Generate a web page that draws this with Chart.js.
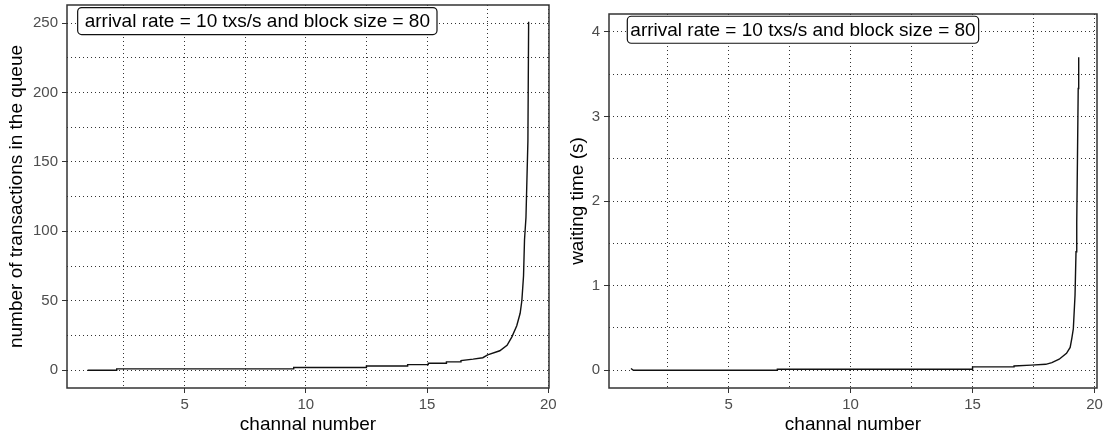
<!DOCTYPE html>
<html>
<head>
<meta charset="utf-8">
<script src="https://cdn.jsdelivr.net/npm/chart.js@4.4.1/dist/chart.umd.min.js"></script>
<style>
    html, body { margin: 0; padding: 0; background: #fff; }
    #wrap { position: relative; width: 1108px; height: 440px; overflow: hidden; }
    .panel { position: absolute; top: 0; height: 440px; }
</style>
</head>
<body>
<div id="wrap">
    <div class="panel" style="left:0;width:575px"><canvas id="queueChart" width="575" height="440"></canvas></div>
    <div class="panel" style="left:555px;width:553px"><canvas id="waitChart" width="553" height="440"></canvas></div>
</div>
<script>
// ---- data ----
const queueX = [1.0, 2.2, 2.2, 9.5, 9.5, 12.5, 12.5, 14.2, 14.2, 15.05, 15.05, 15.8, 15.8, 16.4, 16.4, 16.9, 17.3, 17.5, 18.0, 18.3, 18.5, 18.7, 18.84, 18.91, 18.98, 19.02, 19.08, 19.16, 19.19];
const queueY = [0, 0, 1, 1, 2, 2, 3, 3, 4, 4, 5, 5, 6, 6, 7, 8, 9, 11, 14, 18, 24, 32, 41, 50, 68, 94, 110, 165, 251];

const waitX = [1.0, 1.1, 7.0, 7.0, 15.0, 15.0, 16.7, 16.7, 17.4, 18.0, 18.25, 18.55, 18.85, 19.0, 19.07, 19.13, 19.2, 19.24, 19.27, 19.3, 19.33, 19.35];
const waitY = [0.02, 0, 0, 0.012, 0.012, 0.04, 0.04, 0.05, 0.06, 0.07, 0.09, 0.13, 0.2, 0.27, 0.38, 0.49, 0.89, 1.4, 1.75, 2.52, 3.33, 3.7];

const xTicks = [2.5, 5, 7.5, 10, 12.5, 15, 17.5, 20];
const queueTicks = [0, 25, 50, 75, 100, 125, 150, 175, 200, 225, 250];
const waitTicks = [0, 0.5, 1, 1.5, 2, 2.5, 3, 3.5, 4];

const labelText = 'arrival rate = 10 txs/s and block size = 80';
const xTitle = 'channal number';

// frame round the plot area + the boxed label (like geom_label)
const frameLabel = {
    id: 'frameLabel',
    afterDatasetsDraw(chart, args, opts) {
        const { ctx, chartArea: a, scales } = chart;
        ctx.save();
        ctx.strokeStyle = '#333';
        ctx.lineWidth = 1.5;
        ctx.strokeRect(a.left, a.top, a.right - a.left, a.bottom - a.top);

        ctx.font = '19px "Liberation Sans", Arial, sans-serif';
        const w = ctx.measureText(labelText).width + opts.pad;
        const h = 27;
        const cx = scales.x.getPixelForValue(opts.x);
        const cy = scales.y.getPixelForValue(opts.y) - 2;
        const x0 = cx - w / 2, y0 = cy - h / 2, r = 4;
        ctx.beginPath();
        ctx.moveTo(x0 + r, y0);
        ctx.arcTo(x0 + w, y0, x0 + w, y0 + h, r);
        ctx.arcTo(x0 + w, y0 + h, x0, y0 + h, r);
        ctx.arcTo(x0, y0 + h, x0, y0, r);
        ctx.arcTo(x0, y0, x0 + w, y0, r);
        ctx.closePath();
        ctx.fillStyle = '#fff';
        ctx.fill();
        ctx.strokeStyle = '#111';
        ctx.lineWidth = 1.2;
        ctx.stroke();
        ctx.fillStyle = '#000';
        ctx.textAlign = 'center';
        ctx.textBaseline = 'middle';
        ctx.fillText(labelText, cx, cy + 1);
        ctx.restore();
    }
};

function makeChart(id, xs, ys, cfg) {
    const points = xs.map((x, i) => ({ x: x, y: ys[i] }));
    const tickFont = { family: '"Liberation Sans", Arial, sans-serif', size: 15 };
    const titleFont = { family: '"Liberation Sans", Arial, sans-serif', size: 19 };

    return new Chart(document.getElementById(id).getContext('2d'), {
        type: 'scatter',
        data: {
            datasets: [{
                data: points,
                showLine: true,
                borderColor: '#111',
                borderWidth: 1.4,
                pointRadius: 0,
                tension: 0
            }]
        },
        options: {
            responsive: false,
            animation: false,
            layout: { padding: cfg.padding },
            plugins: {
                legend: { display: false },
                tooltip: { enabled: false },
                frameLabel: { x: cfg.labelX, y: cfg.labelY, pad: cfg.labelPad }
            },
            scales: {
                x: {
                    type: 'linear',
                    min: cfg.xMin,
                    max: cfg.xMax,
                    afterBuildTicks: s => { s.ticks = xTicks.map(v => ({ value: v })); },
                    afterFit: s => { s.height = 52; s.paddingLeft = 0; s.paddingRight = 0; },
                    ticks: {
                        autoSkip: false,
                        maxRotation: 0,
                        padding: 3,
                        color: '#4d4d4d',
                        font: tickFont,
                        callback: v => (v % 5 === 0 ? v : '')
                    },
                    grid: {
                        color: '#333',
                        lineWidth: 1,
                        tickLength: 5,
                        tickColor: c => (c.tick && c.tick.value % 5 === 0 ? '#333' : 'rgba(0,0,0,0)')
                    },
                    border: { display: false, dash: [1, 3] },
                    title: {
                        display: true,
                        text: xTitle,
                        color: '#000',
                        font: titleFont,
                        padding: { top: 0, bottom: 4 }
                    }
                },
                y: {
                    type: 'linear',
                    min: cfg.yMin,
                    max: cfg.yMax,
                    afterBuildTicks: s => { s.ticks = cfg.yTicks.map(v => ({ value: v })); },
                    afterFit: s => { s.width = cfg.yWidth; s.paddingTop = 0; s.paddingBottom = 0; },
                    ticks: {
                        padding: 4,
                        color: '#4d4d4d',
                        font: tickFont,
                        callback: v => (v % cfg.major === 0 ? v : '')
                    },
                    grid: {
                        color: '#333',
                        lineWidth: 1,
                        tickLength: 5,
                        tickColor: c => (c.tick && c.tick.value % cfg.major === 0 ? '#333' : 'rgba(0,0,0,0)')
                    },
                    border: { display: false, dash: [1, 3] },
                    title: {
                        display: true,
                        text: cfg.yTitle,
                        color: '#000',
                        font: titleFont,
                        padding: { top: cfg.yTitlePad, bottom: 0 }
                    }
                }
            }
        },
        plugins: [frameLabel]
    });
}

makeChart('queueChart', queueX, queueY, {
    padding: { top: 5, right: 26, bottom: 0, left: 0 },
    xMin: 0.15, xMax: 20.03,
    yMin: -12.8, yMax: 263,
    yTicks: queueTicks, major: 50,
    yWidth: 67, yTitlePad: 5.6,
    yTitle: 'number of transactions in the queue',
    labelX: 8.0, labelY: 250, labelPad: 14
});

makeChart('waitChart', waitX, waitY, {
    padding: { top: 14, right: 11, bottom: 0, left: 0 },
    xMin: 0.1, xMax: 20.1,
    yMin: -0.21, yMax: 4.21,
    yTicks: waitTicks, major: 1,
    yWidth: 54, yTitlePad: 11.6,
    yTitle: 'waiting time (s)',
    labelX: 8.05, labelY: 4, labelPad: 6
});
</script>
</body>
</html>
